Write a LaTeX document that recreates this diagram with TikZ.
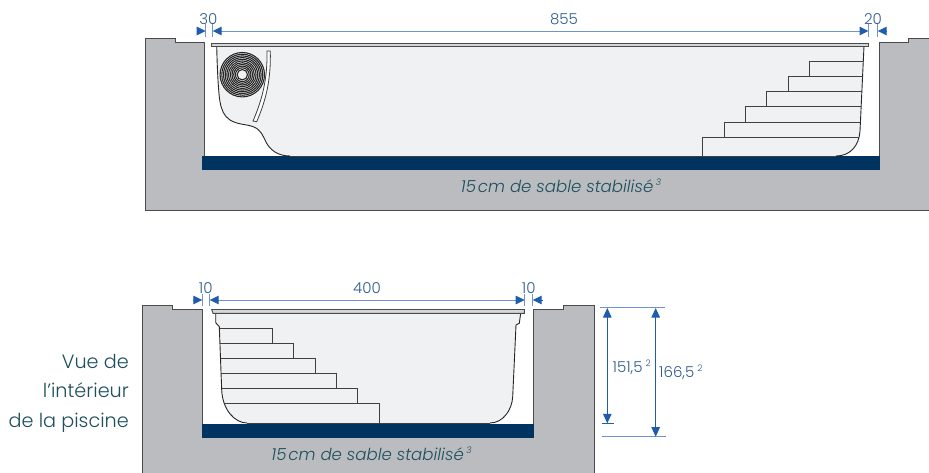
\documentclass[tikz,border=0pt]{standalone}
\usepackage{fontspec}
\setmainfont{Poppins}[UprightFont={* Light},ItalicFont={* Light Italic}]
\usetikzlibrary{arrows.meta}
\definecolor{groundc}{HTML}{BBBCBF}
\definecolor{edgec}{HTML}{4A4A4C}
\definecolor{shellc}{HTML}{F0F1F3}
\definecolor{sandc}{HTML}{00335F}
\definecolor{dimc}{HTML}{1F5CAB}
\definecolor{dimline}{HTML}{6E93CF}
\definecolor{dimtext}{HTML}{2F5C8C}
\definecolor{tealc}{HTML}{1D4F5F}
\tikzset{
  ground/.style={fill=groundc,draw=edgec,line width=1pt},
  sandbed/.style={fill=sandc,draw=none},
  coping/.style={fill=groundc!60!white,draw=edgec,line width=0.9pt},
  shell/.style={fill=shellc,draw=none},
  shelledge/.style={draw=black!85,line width=0.9pt},
  stepline/.style={draw=black!75,line width=0.9pt},
  tick/.style={draw=dimline,line width=1pt},
  dimarrow/.style={draw=dimc,line width=1pt,-{Triangle[length=9pt,width=8.5pt]}},
  dimlong/.style={draw=dimline,line width=1pt,{Triangle[length=9pt,width=8.5pt,color=dimc]}-{Triangle[length=9pt,width=8.5pt,color=dimc]}},
  dimv/.style={draw=dimc,line width=1pt,{Triangle[length=9.5pt,width=8.5pt]}-{Triangle[length=9.5pt,width=8.5pt]}},
  dimlabel/.style={text=dimtext,font=\fontsize{15}{17}\selectfont,inner sep=0pt,anchor=center},
  sandlabel/.style={text=tealc,font=\fontsize{16.6}{18}\selectfont\itshape,inner sep=0pt,anchor=center},
  sidelabel/.style={text=tealc,font=\fontsize{19.2}{29.5}\selectfont,inner sep=0pt,align=right,anchor=east},
}
\newcommand{\sups}[1]{\raisebox{0.42em}{\fontsize{9}{9}\selectfont #1}}
\begin{document}
\begin{tikzpicture}[x=1pt,y=-1pt]
\useasboundingbox (0,0) rectangle (929,472);
\clip (0,0) rectangle (929,472);
%%% TOP SECTION
\draw[ground] (145,38.5) -- (175,38.5) -- (175,42.5) -- (204.5,42.5) -- (204.5,156) -- (879,156) -- (879,42.5) -- (908,42.5) -- (908,38.5) -- (935,38.5) -- (935,210) -- (145,210) -- cycle;
\fill[white] (205,43) rectangle (878.5,156);
\draw[draw=edgec,line width=1pt] (204.5,42.5) -- (204.5,156) (879,42.5) -- (879,156);
\fill[sandbed] (202,156) rectangle (879.5,170);
% shell
\path[shell] (216.7,46) .. controls (217,60) and (218,90) .. (220,101.7) .. controls (221.5,110) and (224,116) .. (230,120) .. controls (238,125) and (247,124) .. (254,127) .. controls (261,130) and (263,136) .. (266,142) .. controls (270,150) and (278,156) .. (290,156) -- (836,156) .. controls (850,156) and (859,146) .. (860,131) -- (864,46) -- cycle;
\draw[shelledge] (216.7,46) .. controls (217,60) and (218,90) .. (220,101.7) .. controls (221.5,110) and (224,116) .. (230,120) .. controls (238,125) and (247,124) .. (254,127) .. controls (261,130) and (263,136) .. (266,142) .. controls (270,150) and (278,156) .. (290,156);
\draw[stepline] (290,156) -- (836,156);
\draw[shelledge] (836,156) .. controls (850,156) and (859,146) .. (860,131) -- (864,46);
% coping
\draw[coping] (211.5,43) rectangle (868,46.3);
% heat-pump coil
\foreach \r in {5.2,6.9,...,23.8} {\draw[black!85,line width=1.1pt] (242.3,74.7) circle[radius=\r];}
% strip
\draw[fill=white,draw=black!75,line width=0.8pt] (267,51) -- (270.3,51) .. controls (271,80) and (266,100) .. (256.7,121.7) -- (253,121) .. controls (262,100) and (267.5,80) .. (267,51) -- cycle;
% steps
\draw[stepline] (702.7,156) -- (702.7,137) -- (858.5,137);
\draw[stepline] (724,137) -- (724,122) -- (860,122);
\draw[stepline] (745.7,122) -- (745.7,106.7) -- (861,106.7);
\draw[stepline] (766.7,106.7) -- (766.7,91.7) -- (861.7,91.7);
\draw[stepline] (788,91.7) -- (788,76.3) -- (862.5,76.3);
\draw[stepline] (809.3,76.3) -- (809.3,61.3) -- (863.2,61.3);
% dimensions
\coordinate (ta) at (205.7,31); \coordinate (tb) at (212.7,31);
\coordinate (tc) at (868.5,31); \coordinate (td) at (877.7,31);
\coordinate (tao) at (196.5,31); \coordinate (tdo) at (887,31);
\foreach \p in {ta,tb,tc,td} {\draw[tick] ([yshift=-5.5pt]\p) -- ([yshift=7pt]\p);}
\draw[dimarrow] (tao) -- (ta);
\draw[dimarrow] (tdo) -- (td);
\draw[dimlong] (tb) -- (tc);
\node[dimlabel] (l30) at (208.3,19.5) {30};
\node[dimlabel] (l855) at (564,19.5) {855};
\node[dimlabel] (l20) at (873,19.5) {20};
\node[sandlabel] (sand1) at (561,185.5) {15\hspace{0.12em}cm de sable stabilisé\hspace{0.15em}\sups{3}};
%%% BOTTOM SECTION
\draw[ground] (142.5,305) -- (172.3,305) -- (172.3,309.5) -- (202.7,309.5) -- (202.7,423.5) -- (533.3,423.5) -- (533.3,309.5) -- (563.3,309.5) -- (563.3,305) -- (594,305) -- (594,480) -- (142.5,480) -- cycle;
\fill[white] (203.2,310) rectangle (532.8,423.5);
\fill[sandbed] (202,423.5) rectangle (533.5,438);
% shell
\path[shell] (215.7,313) -- (215.7,322.7) -- (219.3,326.7) -- (221.7,390) .. controls (222.5,410) and (235,423) .. (247,423) -- (490,423) .. controls (503,423) and (512,410) .. (512.7,396.7) -- (516,325) -- (519.3,323.3) -- (520.7,313) -- cycle;
\draw[shelledge] (215.7,313) -- (215.7,322.7) -- (219.3,326.7) -- (221.7,390) .. controls (222.5,410) and (235,423) .. (247,423);
\draw[stepline] (247,423) -- (490,423);
\draw[shelledge] (490,423) .. controls (503,423) and (512,410) .. (512.7,396.7) -- (516,325) -- (519.3,323.3) -- (520.7,313);
\draw[coping] (211.7,309.5) -- (524.3,309.5) -- (524.3,313.3) -- (213,313.3) -- cycle;
% steps
\draw[stepline] (219.5,328.3) -- (272.3,328.3) -- (272.3,343.3);
\draw[stepline] (220.2,343.3) -- (293.7,343.3) -- (293.7,358.3);
\draw[stepline] (220.8,358.3) -- (315,358.3) -- (315,373.5);
\draw[stepline] (221.3,373.5) -- (336.3,373.5) -- (336.3,388.7);
\draw[stepline] (221.7,388.7) -- (357.7,388.7) -- (357.7,403.7);
\draw[stepline] (224,403.7) -- (379,403.7) -- (379,423);
% dimensions
\coordinate (ba) at (202.3,300); \coordinate (bb) at (209.7,300);
\coordinate (bc) at (524.7,300); \coordinate (bd) at (532.7,300);
\coordinate (bao) at (193.3,300); \coordinate (bdo) at (542.7,300);
\foreach \p in {ba,bb,bc,bd} {\draw[tick] ([yshift=-5.5pt]\p) -- ([yshift=6.5pt]\p);}
\draw[dimarrow] (bao) -- (ba);
\draw[dimarrow] (bdo) -- (bd);
\draw[dimlong] (bb) -- (bc);
\node[dimlabel] (l10a) at (205.7,288) {10};
\node[dimlabel] (l400) at (367,288) {400};
\node[dimlabel] (l10b) at (528.7,288) {10};
\coordinate (va) at (607.3,308); \coordinate (vb) at (607.3,423.3);
\coordinate (vc) at (655.7,308); \coordinate (vd) at (655.7,436.7);
\draw[tick] (600,307.7) -- (665,307.7);
\draw[tick] (601.7,436.7) -- (665.7,436.7);
\draw[draw=dimc,line width=1pt] (601.7,423.3) -- (614,423.3);
\draw[dimv] (va) -- (vb);
\draw[dimv] (vc) -- (vd);
\node[dimlabel,anchor=west] (h1) at (612.5,367) {151,5\hspace{0.2em}\sups{2}};
\node[dimlabel,anchor=west] (h2) at (659,372) {166,5\hspace{0.2em}\sups{2}};
\node[sandlabel] (sand2) at (371.5,454) {15\hspace{0.12em}cm de sable stabilisé\hspace{0.15em}\sups{3}};
\node[sidelabel] (side) at (129,393) {Vue de\\l’intérieur\\de la piscine};
\end{tikzpicture}
\end{document}
